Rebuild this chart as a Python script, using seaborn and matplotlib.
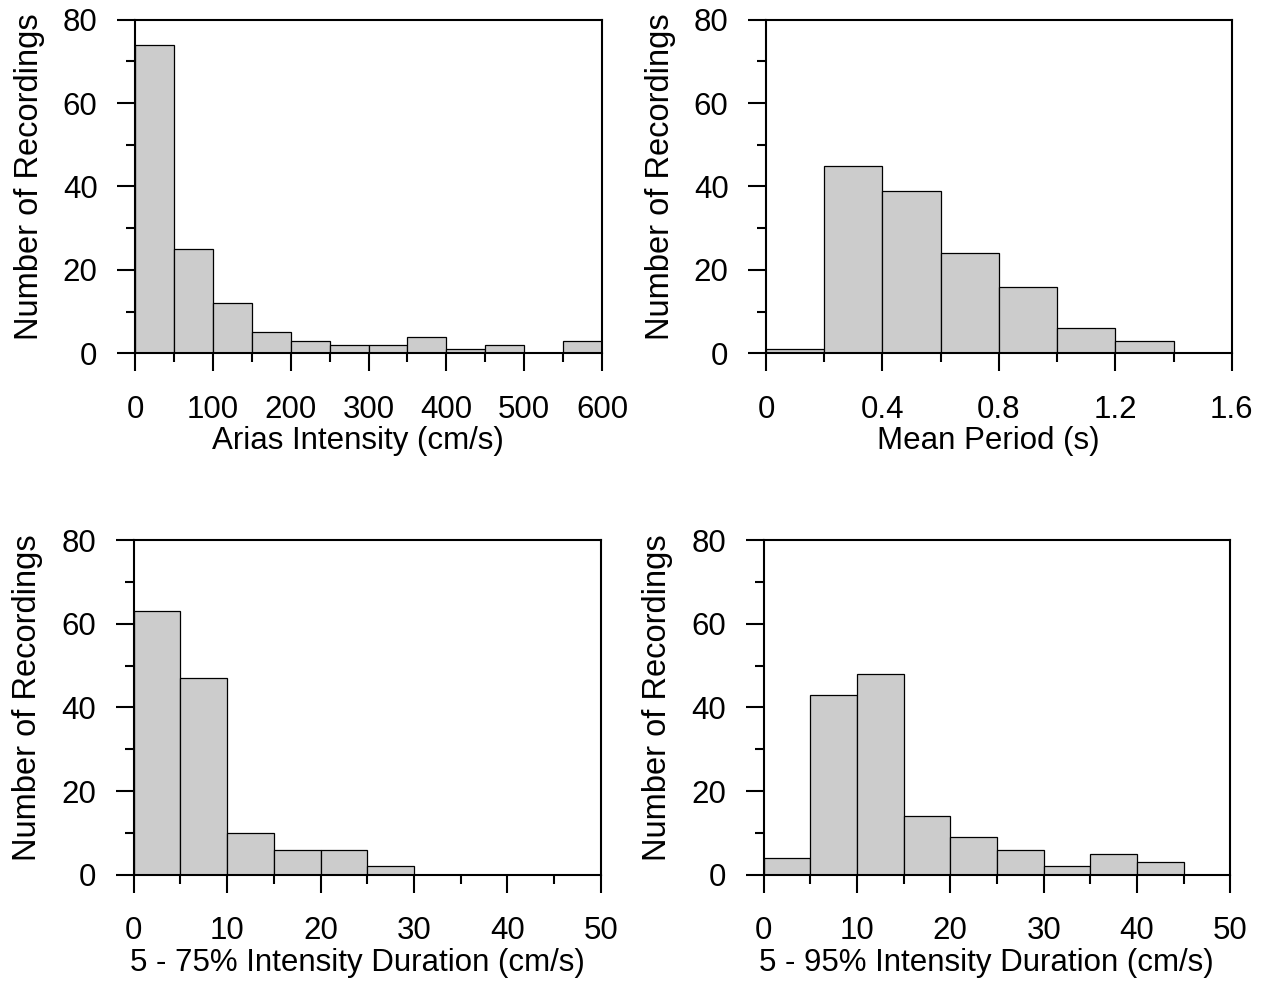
import numpy as np
import pandas as pd
import matplotlib
matplotlib.use("Agg")
import matplotlib.pyplot as plt
from matplotlib.ticker import MultipleLocator
import seaborn as sns

sns.set_theme(style="ticks")
plt.rcParams['font.family'] = ['Liberation Sans', 'DejaVu Sans']
plt.rcParams['text.color'] = 'black'
plt.rcParams['axes.labelcolor'] = 'black'
plt.rcParams['xtick.color'] = 'black'
plt.rcParams['ytick.color'] = 'black'

# -------------------------
# Data (bin counts)
# -------------------------
arias_edges = [0, 50, 100, 150, 200, 250, 300, 350, 400, 450, 500, 550, 600]
arias_counts = [74, 25, 12, 5, 3, 2, 2, 4, 1, 2, 0, 3]

period_edges = [0.0, 0.2, 0.4, 0.6, 0.8, 1.0, 1.2, 1.4]
period_counts = [1, 45, 39, 24, 16, 6, 3]

d575_edges = [0, 5, 10, 15, 20, 25, 30, 35, 40, 45, 50]
d575_counts = [63, 47, 10, 6, 6, 2, 0, 0, 0, 0]

d595_edges = [0, 5, 10, 15, 20, 25, 30, 35, 40, 45, 50]
d595_counts = [4, 43, 48, 14, 9, 6, 2, 5, 3, 0]

panels = [
    dict(edges=arias_edges, counts=arias_counts, xlabel="Arias Intensity (cm/s)",
         xlim=(0, 600), major=100, minor=50, fmt="{:.0f}"),
    dict(edges=period_edges, counts=period_counts, xlabel="Mean Period (s)",
         xlim=(0, 1.6), major=0.4, minor=0.2, fmt="{:g}"),
    dict(edges=d575_edges, counts=d575_counts, xlabel="5 - 75% Intensity Duration (cm/s)",
         xlim=(0, 50), major=10, minor=5, fmt="{:.0f}"),
    dict(edges=d595_edges, counts=d595_counts, xlabel="5 - 95% Intensity Duration (cm/s)",
         xlim=(0, 50), major=10, minor=5, fmt="{:.0f}"),
]

# axes rectangles in figure fractions [left, bottom, width, height]
rects = [
    [0.107, 0.641, 0.370, 0.339],
    [0.607, 0.641, 0.369, 0.339],
    [0.106, 0.111, 0.370, 0.340],
    [0.605, 0.111, 0.370, 0.340],
]

FS = 22.5


def draw_panel(ax, p):
    edges = list(p["edges"])
    centers = [(a + b) / 2 for a, b in zip(edges[:-1], edges[1:])]
    df = pd.DataFrame({"x": centers, "n": p["counts"]})
    sns.histplot(data=df, x="x", weights="n", bins=edges, ax=ax,
                 color="#cccccc", edgecolor="black", linewidth=0.9, alpha=1)

    ax.set_xlim(*p["xlim"])
    ax.set_ylim(0, 80)
    ax.yaxis.set_major_locator(MultipleLocator(20))
    ax.yaxis.set_minor_locator(MultipleLocator(10))
    ticks = np.arange(p["xlim"][0], p["xlim"][1] + p["major"] / 2, p["major"])
    ax.set_xticks(ticks)
    ax.set_xticklabels([p["fmt"].format(t) for t in ticks])
    ax.xaxis.set_minor_locator(MultipleLocator(p["minor"]))

    ax.tick_params(which="both", direction="out", top=False, right=False,
                   width=1.5, colors="black", labelsize=FS)
    ax.tick_params(axis="x", which="major", length=13, pad=17)
    ax.tick_params(axis="x", which="minor", length=6.5)
    ax.tick_params(axis="y", which="major", length=13, pad=14)
    ax.tick_params(axis="y", which="minor", length=6.5)

    for s in ax.spines.values():
        s.set_visible(True)
        s.set_linewidth(1.5)
        s.set_color("black")

    ax.set_xlabel(p["xlabel"], fontsize=FS, labelpad=1)
    ax.set_ylabel("Number of Recordings", fontsize=23.5, labelpad=13)
    # labels in the original sit slightly off-centre
    ax.xaxis.label.set_x(0.478)
    ax.yaxis.label.set_y(0.53)


fig = plt.figure(figsize=(12.62, 9.84), dpi=100)
for rect, p in zip(rects, panels):
    ax = fig.add_axes(rect)
    draw_panel(ax, p)

fig.savefig("out.png", dpi=100, facecolor="white")
